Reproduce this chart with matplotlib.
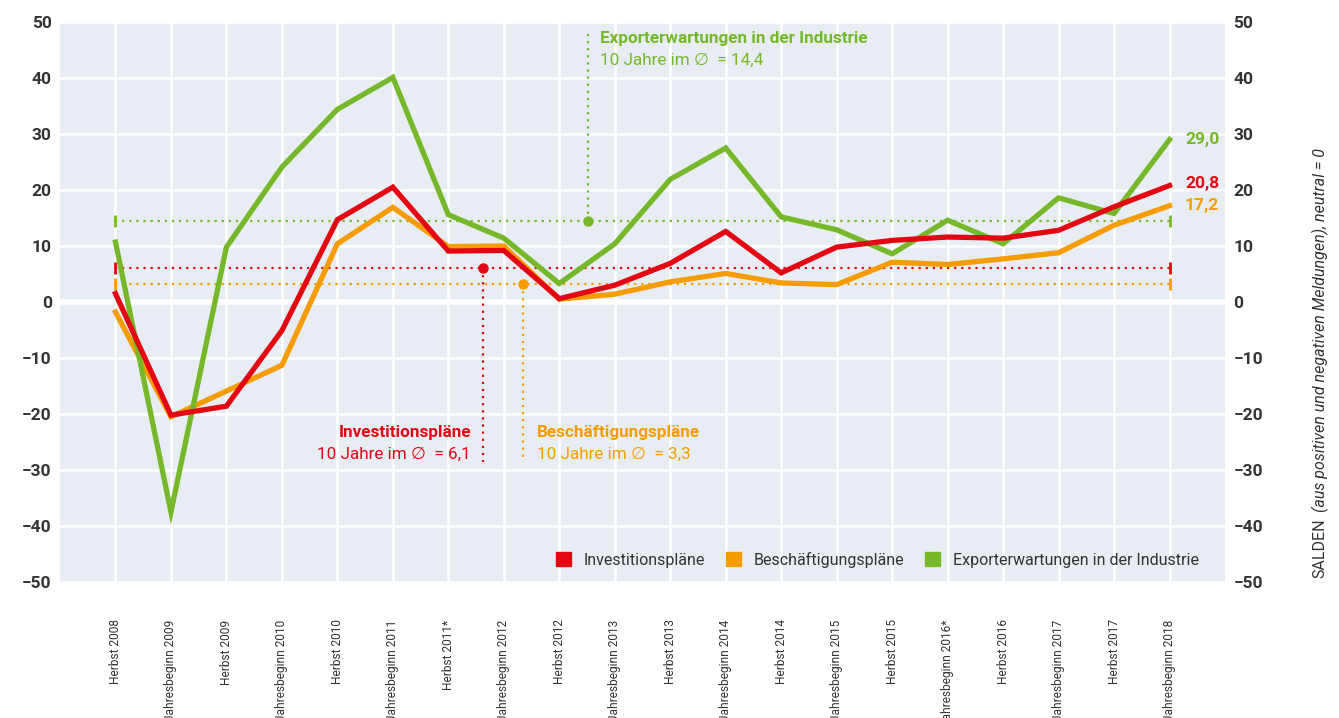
import numpy as np
import matplotlib
matplotlib.use("Agg")
import matplotlib.pyplot as plt
from matplotlib.patches import Patch

# Daten
kategorien = ["Herbst 2008", "Jahresbeginn 2009", "Herbst 2009", "Jahresbeginn 2010",
              "Herbst 2010", "Jahresbeginn 2011", "Herbst 2011*", "Jahresbeginn 2012",
              "Herbst 2012", "Jahresbeginn 2013", "Herbst 2013", "Jahresbeginn 2014",
              "Herbst 2014", "Jahresbeginn 2015", "Herbst 2015", "Jahresbeginn 2016*",
              "Herbst 2016", "Jahresbeginn 2017", "Herbst 2017", "Jahresbeginn 2018"]
investition = [1.5, -20.2, -18.6, -5.1, 14.7, 20.5, 9.1, 9.2, 0.6, 3.0,
               6.9, 12.6, 5.2, 9.8, 11.0, 11.6, 11.4, 12.8, 17.0, 20.8]
beschaeftigung = [-1.8, -20.5, -15.9, -11.3, 10.4, 16.9, 9.9, 10.0, 0.5, 1.4,
                  3.6, 5.1, 3.4, 3.1, 7.1, 6.7, 7.7, 8.8, 13.7, 17.2]
export = [10.7, -37.5, 9.8, 24.1, 34.4, 40.1, 15.6, 11.4, 3.3, 10.4,
          21.9, 27.5, 15.2, 12.9, 8.6, 14.6, 10.4, 18.6, 15.8, 29.0]
schnitt_inv = 6.1
schnitt_bes = 3.3
schnitt_exp = 14.4

ROT = "#E30613"
ORANGE = "#F59C00"
GRUEN = "#76B82A"
TEXT = "#333333"
HG = "#E8EDF4"

plt.rcParams["font.family"] = ["Roboto", "DejaVu Sans"]

fig = plt.figure(figsize=(13.39, 7.18), dpi=100)
ax = fig.add_axes([60 / 1339, 1 - 582 / 718, 1165 / 1339, 560 / 718])
ax.set_facecolor(HG)
for s in ax.spines.values():
    s.set_visible(False)

x = np.arange(len(kategorien))
ax.set_xlim(-1, 20)
ax.set_ylim(-50, 50)
ax.set_yticks(range(-50, 51, 10))
ax.set_xticks(x)
ax.set_xticklabels(kategorien, rotation=90, fontsize=8.6, color=TEXT, va="top")
ax.tick_params(axis="x", length=0, pad=27)
ax.tick_params(axis="y", length=0, labelsize=12.5, labelcolor=TEXT, pad=6,
               labelright=True, labelleft=True)
for lab in ax.get_yticklabels():
    lab.set_fontweight("bold")
ax.grid(True, color="white", linewidth=1.8)
ax.set_axisbelow(True)
ax.axhline(0, color="white", linewidth=4, zorder=1)

# Durchschnittslinien (gepunktet, mit Endstrichen)
for wert, farbe in [(schnitt_exp, GRUEN), (schnitt_inv, ROT), (schnitt_bes, ORANGE)]:
    ax.plot([x[0], x[-1]], [wert, wert], color=farbe, linestyle=(0, (1, 2.2)),
            linewidth=1.6, zorder=2)
    ax.plot([x[0], x[-1]], [wert, wert], linestyle="none", marker="|",
            markersize=8, markeredgewidth=2, color=farbe, zorder=2)

# Linien
ax.plot(x, beschaeftigung, color=ORANGE, linewidth=3.8, solid_joinstyle="miter", zorder=3)
ax.plot(x, export, color=GRUEN, linewidth=3.8, solid_joinstyle="miter", zorder=4)
ax.plot(x, investition, color=ROT, linewidth=3.8, solid_joinstyle="miter", zorder=5)

# Endwerte
ax.text(19.28, export[-1], "29,0", color=GRUEN, fontsize=12.5, fontweight="bold",
        va="center", ha="left")
ax.text(19.28, investition[-1] + 0.3, "20,8", color=ROT, fontsize=12.5, fontweight="bold",
        va="center", ha="left")
ax.text(19.28, beschaeftigung[-1], "17,2", color=ORANGE, fontsize=12.5, fontweight="bold",
        va="center", ha="left")

# Anmerkungen
def anmerkung(xp, wert, yend, farbe, xt, ytitel, titel, zeile, ha):
    ax.plot([xp, xp], [wert, yend], color=farbe, linestyle=(0, (1, 2.2)),
            linewidth=1.6, zorder=2)
    ax.plot([xp], [wert], marker="o", markersize=6.5, color=farbe, zorder=6)
    ax.text(xt, ytitel, titel, color=farbe, fontsize=12.3, fontweight="bold",
            ha=ha, va="center")
    ax.text(xt, ytitel - 3.9, zeile, color=farbe, fontsize=12.3, ha=ha, va="center")

anmerkung(8.52, schnitt_exp, 48.2, GRUEN, 8.74, 47.1,
          "Exporterwartungen in der Industrie", "10 Jahre im \u2205  = 14,4", "left")
anmerkung(6.63, schnitt_inv, -28.5, ROT, 6.41, -23.3,
          "Investitionspläne", "10 Jahre im \u2205  = 6,1", "right")
anmerkung(7.35, schnitt_bes, -28.5, ORANGE, 7.59, -23.3,
          "Beschäftigungspläne", "10 Jahre im \u2205  = 3,3", "left")

# Legende
handles = [Patch(color=ROT), Patch(color=ORANGE), Patch(color=GRUEN)]
ax.legend(handles, ["Investitionspläne", "Beschäftigungspläne",
                    "Exporterwartungen in der Industrie"],
          loc="lower right", bbox_to_anchor=(0.99, 0.0), ncol=3, frameon=False,
          fontsize=11.5, handlelength=0.95, handleheight=0.95, handletextpad=0.8,
          columnspacing=1.3, labelcolor=TEXT)

# rechte Achsenbeschriftung
t1 = fig.text(1320 / 1339, 1 - 578 / 718, "SALDEN", rotation=90, fontsize=11.5,
              color=TEXT, ha="center", va="bottom")
fig.canvas.draw()
bb = t1.get_window_extent()
fig.text(1320 / 1339, (bb.y1 + 6) / 718,
         "(aus positiven und negativen Meldungen), neutral = 0", rotation=90,
         fontsize=11.5, style="italic", color=TEXT, ha="center", va="bottom")

fig.savefig("out.png", dpi=100)
